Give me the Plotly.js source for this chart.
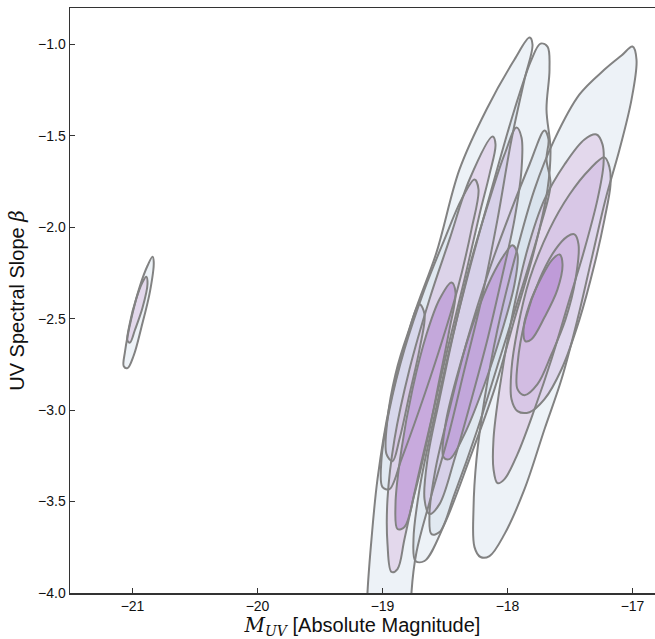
<!DOCTYPE html>
<html><head><meta charset="utf-8">
<script src="https://cdn.plot.ly/plotly-3.0.1.min.js"></script>
<style>html,body{margin:0;padding:0;background:#fff}#plot{width:655px;height:639px}</style>
</head><body><div id="plot"></div>
<script>
// Contour outlines: M_UV (x) and beta (y) vertices.
const smallOuterX = [-20.84,-20.83,-20.86,-20.93,-20.99,-21.04,-21.07,-21.06,-21.01,-20.94,-20.88];
const smallOuterY = [-2.16,-2.19,-2.35,-2.55,-2.70,-2.77,-2.76,-2.68,-2.50,-2.32,-2.21];
const smallInnerX = [-20.89,-20.88,-20.92,-20.98,-21.02,-21.04,-21.02,-20.97,-20.92];
const smallInnerY = [-2.27,-2.31,-2.44,-2.56,-2.63,-2.62,-2.52,-2.39,-2.30];

const c1X = [-18.264,-18.232,-18.288,-18.4,-18.544,-18.704,-18.848,-18.944,-19.0,-19.008,-18.944,-18.824,-18.664,-18.504,-18.368];
const c1Y = [-1.738,-1.792,-2.011,-2.339,-2.667,-2.995,-3.268,-3.432,-3.421,-3.268,-2.995,-2.667,-2.339,-2.066,-1.847];
const c2X = [-18.704,-18.664,-18.704,-18.784,-18.864,-18.92,-18.968,-18.96,-18.896,-18.8];
const c2Y = [-2.421,-2.475,-2.667,-2.913,-3.158,-3.279,-3.240,-3.049,-2.803,-2.585];

const a1X = [-17.824,-17.8,-17.864,-17.968,-18.08,-18.208,-18.344,-18.48,-18.624,-18.728,-18.768,-18.776,-19.136,-19.12,-19.088,-19.04,-18.944,-18.76,-18.568,-18.384,-18.168,-17.944];
const a1Y = [-0.962,-1.0,-1.191,-1.519,-1.956,-2.393,-2.776,-3.158,-3.503,-3.776,-3.995,-4.361,-4.361,-3.995,-3.705,-3.377,-2.978,-2.503,-2.137,-1.683,-1.355,-1.082];
const a2X = [-18.12,-18.096,-18.144,-18.224,-18.344,-18.48,-18.608,-18.72,-18.824,-18.88,-18.928,-18.96,-18.96,-18.904,-18.784,-18.624,-18.464,-18.304];
const a2Y = [-1.503,-1.546,-1.710,-1.929,-2.284,-2.667,-3.049,-3.377,-3.705,-3.869,-3.885,-3.732,-3.486,-3.158,-2.776,-2.393,-2.066,-1.738];
const a3X = [-18.448,-18.416,-18.464,-18.544,-18.64,-18.744,-18.824,-18.88,-18.896,-18.848,-18.76,-18.648,-18.544];
const a3Y = [-2.301,-2.355,-2.557,-2.831,-3.158,-3.459,-3.639,-3.650,-3.514,-3.213,-2.885,-2.585,-2.393];

const d1X = [-17.704,-17.672,-17.688,-17.656,-17.744,-17.888,-18.064,-18.24,-18.424,-18.544,-18.608,-18.624,-18.576,-18.464,-18.32,-18.144,-17.968,-17.824];
const d1Y = [-1.470,-1.519,-1.628,-1.765,-2.011,-2.339,-2.721,-3.104,-3.459,-3.667,-3.678,-3.568,-3.322,-2.995,-2.612,-2.229,-1.902,-1.656];

const b1X = [-17.736,-17.68,-17.664,-17.688,-17.656,-17.68,-17.784,-17.944,-18.104,-18.304,-18.504,-18.664,-18.736,-18.752,-18.704,-18.608,-18.464,-18.304,-18.128,-17.944,-17.808];
const b1Y = [-0.995,-1.011,-1.137,-1.355,-1.574,-1.792,-2.120,-2.503,-2.885,-3.268,-3.623,-3.825,-3.825,-3.705,-3.432,-3.104,-2.667,-2.229,-1.792,-1.355,-1.082];
const b2X = [-17.928,-17.888,-17.888,-17.944,-18.048,-18.16,-18.288,-18.424,-18.544,-18.624,-18.664,-18.64,-18.544,-18.424,-18.288,-18.144,-18.024];
const b2Y = [-1.454,-1.508,-1.683,-1.956,-2.284,-2.612,-2.940,-3.268,-3.514,-3.568,-3.486,-3.268,-2.940,-2.557,-2.175,-1.847,-1.601];
const b3X = [-17.96,-17.92,-17.944,-18.04,-18.184,-18.344,-18.464,-18.512,-18.496,-18.4,-18.264,-18.128,-18.024];
const b3Y = [-2.098,-2.148,-2.311,-2.557,-2.858,-3.131,-3.268,-3.257,-3.077,-2.803,-2.503,-2.273,-2.148];

const r1X = [-17.0,-16.968,-17.008,-17.104,-17.216,-17.328,-17.44,-17.568,-17.704,-17.864,-18.024,-18.144,-18.216,-18.264,-18.272,-18.248,-18.184,-18.08,-17.944,-17.784,-17.624,-17.424,-17.224,-17.088];
const r1Y = [-1.011,-1.082,-1.301,-1.574,-1.847,-2.175,-2.503,-2.831,-3.104,-3.432,-3.678,-3.798,-3.803,-3.749,-3.541,-3.268,-2.940,-2.557,-2.175,-1.792,-1.519,-1.273,-1.137,-1.060];
const r2X = [-17.288,-17.24,-17.232,-17.28,-17.384,-17.504,-17.648,-17.784,-17.92,-18.024,-18.08,-18.112,-18.112,-18.064,-17.968,-17.84,-17.704,-17.544,-17.384];
const r2Y = [-1.492,-1.546,-1.656,-1.847,-2.120,-2.393,-2.721,-2.995,-3.240,-3.377,-3.399,-3.322,-3.158,-2.885,-2.503,-2.120,-1.847,-1.656,-1.519];

const q1X = [-17.224,-17.184,-17.176,-17.224,-17.304,-17.424,-17.568,-17.704,-17.824,-17.92,-17.968,-17.968,-17.92,-17.824,-17.664,-17.504,-17.344];
const q1Y = [-1.617,-1.672,-1.765,-1.956,-2.202,-2.503,-2.776,-2.940,-3.011,-3.005,-2.940,-2.776,-2.557,-2.284,-2.011,-1.820,-1.683];
const q2X = [-17.464,-17.432,-17.456,-17.536,-17.648,-17.76,-17.864,-17.92,-17.92,-17.856,-17.744,-17.616,-17.52];
const q2Y = [-2.038,-2.093,-2.284,-2.503,-2.694,-2.858,-2.918,-2.885,-2.749,-2.503,-2.284,-2.120,-2.049];
const q3X = [-17.584,-17.56,-17.6,-17.704,-17.808,-17.856,-17.872,-17.824,-17.728,-17.64];
const q3Y = [-2.148,-2.202,-2.339,-2.492,-2.612,-2.623,-2.557,-2.421,-2.273,-2.175];

const xTicks = [-21,-20,-19,-18,-17];
const yTicks = [-4.0,-3.5,-3.0,-2.5,-2.0,-1.5,-1.0];

const fills = {
  1: 'rgba(200,216,230,0.33)',
  2: 'rgba(200,172,222,0.38)',
  p: 'rgba(215,180,222,0.42)',
  3: 'rgba(170,120,205,0.47)'
};

const contours = [
  [smallOuterX, smallOuterY, 1], [smallInnerX, smallInnerY, 'p'],
  [c1X, c1Y, 1], [c2X, c2Y, 2],
  [a1X, a1Y, 1], [a2X, a2Y, 'p'], [a3X, a3Y, 3],
  [d1X, d1Y, 1],
  [b1X, b1Y, 1], [b2X, b2Y, 2], [b3X, b3Y, 3],
  [r1X, r1Y, 1], [r2X, r2Y, 'p'],
  [q1X, q1Y, 2], [q2X, q2Y, 2], [q3X, q3Y, 3]
];

function closed(a){ return a.concat([a[0]]); }

const traces = [];
contours.forEach(([xs, ys, lev]) => {
  traces.push({type:'scatter', mode:'lines', x: closed(xs), y: closed(ys),
    fill:'toself', fillcolor: fills[lev],
    line:{width:0, shape:'spline', smoothing:1, color:'rgba(0,0,0,0)'},
    hoverinfo:'skip', showlegend:false});
});
contours.forEach(([xs, ys]) => {
  traces.push({type:'scatter', mode:'lines', x: closed(xs), y: closed(ys),
    line:{width:2, shape:'spline', smoothing:1, color:'#828282'},
    hoverinfo:'skip', showlegend:false});
});

const layout = {
  width:655, height:639,
  margin:{l:70, r:0, t:8, b:46},
  paper_bgcolor:'#fff', plot_bgcolor:'#fff',
  font:{family:'Liberation Sans, Arial, sans-serif', size:14, color:'#111'},
  showlegend:false,
  xaxis:{range:[-21.5,-16.82], tickvals:xTicks, ticktext:xTicks.map(v=>'\u2212'+Math.abs(v)),
    ticks:'inside', ticklen:5, tickwidth:1, tickcolor:'#333',
    showline:true, linecolor:'#333', linewidth:1.5, mirror:true, showgrid:false, zeroline:false,
    title:{text:'<span style="font-family:\'DejaVu Serif\'"><i>M</i><sub><i>UV</i></sub></span> [Absolute Magnitude]', font:{size:20, color:'#111'}, standoff:6}},
  yaxis:{range:[-4.0,-0.8], tickvals:yTicks, ticktext:yTicks.map(v=>'\u2212'+Math.abs(v).toFixed(1)),
    ticks:'inside', ticklen:5, tickwidth:1, tickcolor:'#333',
    showline:true, linecolor:'#333', linewidth:1.5, showgrid:false, zeroline:false,
    title:{text:'UV Spectral Slope <span style="font-family:\'DejaVu Serif\'"><i>β</i></span>', font:{size:20, color:'#111'}, standoff:8}}
};

Plotly.newPlot('plot', traces, layout, {displayModeBar:false, staticPlot:true});
</script></body></html>
